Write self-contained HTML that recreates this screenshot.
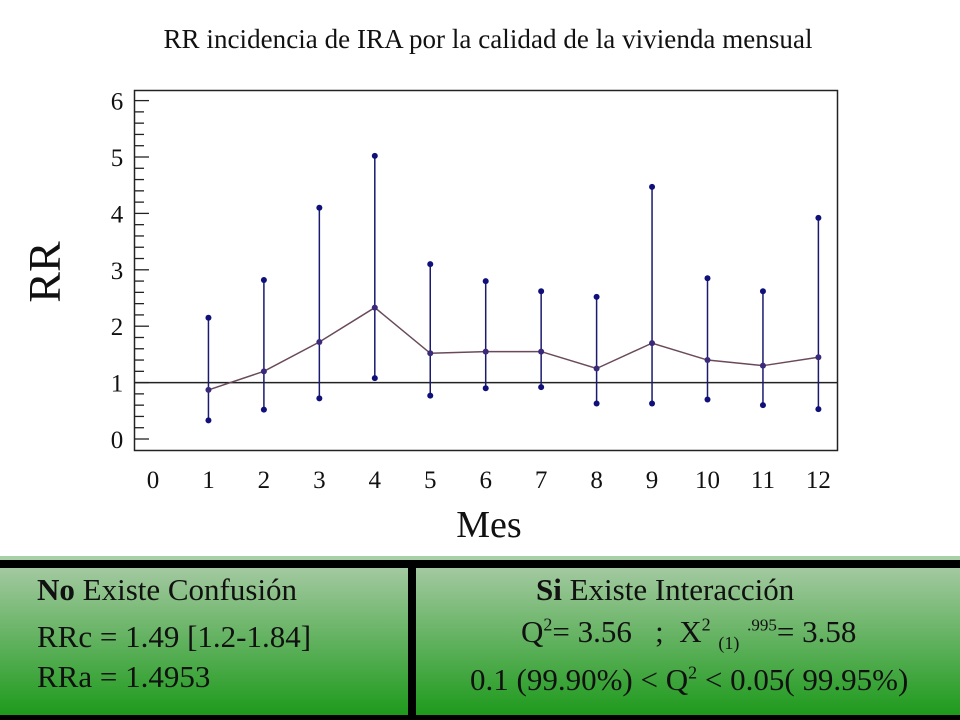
<!DOCTYPE html>
<html><head><meta charset="utf-8">
<style>
body{margin:0;width:960px;height:720px;background:#fff;position:relative;overflow:hidden;font-family:"Liberation Serif",serif;}
.panel{position:absolute;top:568px;height:147px;background:linear-gradient(#a3c9a0,#1e9a1c);color:#111;font-size:31px;}
.t{position:absolute;white-space:nowrap;line-height:36px;}
sup,sub{font-size:18px;line-height:0;}
</style></head><body>
<svg width="960" height="556" style="position:absolute;left:0;top:0">
<text x="488" y="48" text-anchor="middle" font-family="Liberation Serif" font-size="27" fill="#111" textLength="649">RR incidencia de IRA por la calidad de la vivienda mensual</text>
<text transform="translate(60,272) rotate(-90)" text-anchor="middle" font-family="Liberation Serif" font-size="46" fill="#111">RR</text>
<text x="489" y="537" text-anchor="middle" font-family="Liberation Serif" font-size="38" fill="#111">Mes</text>
<rect x="134.5" y="90.5" width="703" height="360" fill="none" stroke="#222" stroke-width="1.5"/>
<g id="axes"></g><g id="marks"></g>
</svg>
<div style="position:absolute;left:0;top:556px;width:960px;height:4px;background:#a8cfa6"></div>
<div style="position:absolute;left:0;top:560px;width:960px;height:160px;background:#000"></div>
<div class="panel" style="left:0;width:408px">
<div class="t" style="left:37px;top:4px"><b>No</b> Existe Confusión</div>
<div class="t" style="left:37px;top:51px">RRc = 1.49 [1.2-1.84]</div>
<div class="t" style="left:37px;top:91px">RRa = 1.4953</div>
</div>
<div class="panel" style="left:416px;width:544px">
<div class="t" style="left:120px;top:4px"><b>Si</b> Existe Interacción</div>
<div class="t" style="left:105px;top:46px">Q<sup>2</sup>= 3.56 &nbsp; ; &nbsp;X<sup>2</sup> <sub>(1)</sub> <sup style="font-size:17px">.995</sup>= 3.58</div>
<div class="t" style="left:54px;top:94px">0.1 (99.90%) &lt; Q<sup>2</sup> &lt; 0.05( 99.95%)</div>
</div>
<script>
const months=[1,2,3,4,5,6,7,8,9,10,11,12];
const rr=[0.87,1.2,1.72,2.33,1.52,1.55,1.55,1.25,1.7,1.4,1.3,1.45];
const upper=[2.15,2.82,4.1,5.02,3.1,2.8,2.62,2.52,4.47,2.85,2.62,3.92];
const lower=[0.33,0.52,0.72,1.08,0.77,0.9,0.92,0.63,0.63,0.7,0.6,0.53];
const yTicks=[0,1,2,3,4,5,6];
const xTicks=[0,1,2,3,4,5,6,7,8,9,10,11,12];
const refValue=1;
const NS='http://www.w3.org/2000/svg';
const X=v=>153+v*55.45, Y=v=>439-v*56.4;
function mk(t,a,p){const e=document.createElementNS(NS,t);for(const k in a)e.setAttribute(k,a[k]);p.appendChild(e);return e;}
const ax=document.getElementById('axes'),mg=document.getElementById('marks');
for(let v=0;v<=6.001;v+=0.2){const maj=Math.abs(v-Math.round(v))<0.01;
const l=mk('line',{x1:135,x2:maj?149:144,y1:Y(v),y2:Y(v),stroke:'#222','stroke-width':1.3},ax);

}
yTicks.forEach(v=>{const t=mk('text',{x:117,y:Y(v)+9,'text-anchor':'middle','font-family':'Liberation Serif','font-size':25,fill:'#111'},ax);t.textContent=v;

});
xTicks.forEach(v=>{const t=mk('text',{x:X(v),y:488,'text-anchor':'middle','font-family':'Liberation Serif','font-size':25,fill:'#111'},ax);t.textContent=v;

});
const ref=mk('line',{x1:135,x2:837,y1:Y(refValue),y2:Y(refValue),stroke:'#222','stroke-width':1.5},mg);


months.forEach((m,i)=>{const l=mk('line',{x1:X(m),x2:X(m),y1:Y(upper[i]),y2:Y(lower[i]),stroke:'#1a1a6e','stroke-width':1.5},mg);


[upper[i],lower[i]].forEach(v=>{const c=mk('circle',{cx:X(m),cy:Y(v),r:3,fill:'#10107a'},mg);

});});
const pl=mk('polyline',{points:months.map((m,i)=>X(m)+','+Y(rr[i])).join(' '),fill:'none',stroke:'#6a4a5a','stroke-width':1.5},mg);


months.forEach((m,i)=>{const c=mk('circle',{cx:X(m),cy:Y(rr[i]),r:3,fill:'#3a2a7a'},mg);

});
</script>
</body></html>
